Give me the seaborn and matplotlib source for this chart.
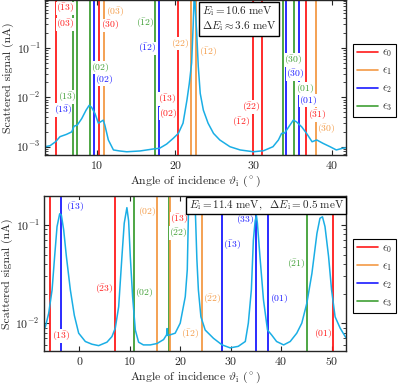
import matplotlib
matplotlib.use("Agg")
import matplotlib.pyplot as plt
from matplotlib.lines import Line2D
import pandas as pd
import seaborn as sns

# measured signal, top panel (Ei = 10.6 meV)
top_angle = [3.35, 4.0, 4.7, 5.27, 6.1, 6.77, 7.06, 7.48, 8.04, 8.6, 9.0, 9.3, 9.74,
             10.17, 10.47, 10.8, 11.0, 11.45, 12.1, 12.9, 13.8, 15.5, 17.2, 18.0, 18.9,
             19.75, 20.4, 21.0, 21.5, 21.8, 22.1, 22.3, 22.45, 22.6, 22.75, 22.95, 23.2,
             23.6, 24.2, 24.9, 25.7, 27.0, 28.3, 30.0, 31.3, 32.5, 33.2, 33.6, 34.0,
             34.5, 35.1, 35.5, 36.2, 36.8, 37.5, 38.1, 38.9, 39.8, 40.6, 41.4, 41.8]
top_signal = [1.0e-3, 1.05e-3, 1.26e-3, 1.6e-3, 1.78e-3, 2.0e-3, 2.6e-3, 2.75e-3, 3.7e-3,
              5.5e-3, 6.9e-3, 6.3e-3, 4.7e-3, 3.0e-3, 3.2e-3, 3.45e-3, 2.75e-3, 1.37e-3,
              8.6e-4, 8.2e-4, 7.9e-4, 8.2e-4, 9.0e-4, 9.3e-4, 1.13e-3, 1.48e-3, 1.86e-3,
              3.0e-3, 8.8e-3, 1.9e-2, 5.0e-2, 0.3, 1.5, 0.5, 0.2, 4.2e-2, 1.2e-2, 5.5e-3,
              3.0e-3, 1.86e-3, 1.37e-3, 1.0e-3, 8.6e-4, 7.9e-4, 8.3e-4, 1.0e-3, 1.37e-3,
              1.86e-3, 1.9e-3, 2.5e-3, 3.45e-3, 3.2e-3, 2.5e-3, 1.86e-3, 1.26e-3, 1.37e-3,
              1.17e-3, 1.0e-3, 8.6e-4, 9.3e-4, 9.5e-4]

# measured signal, bottom panel (Ei = 11.4 meV)
bot_angle = [-7.0, -6.7, -6.07, -5.4, -4.89, -4.42, -3.89, -3.56, -3.1, -2.57, -1.78, -0.99,
             -0.13, 1.19, 2.5, 3.83, 5.48, 6.47, 7.13, 7.8, 8.45, 8.9, 9.43, 9.77, 10.1,
             10.56, 11.1, 11.75, 12.7, 14.06, 15.4, 16.7, 17.3, 17.4, 17.5, 18.0, 19.0,
             20.0, 21.0, 21.4, 21.7, 22.3, 22.9, 23.3, 23.6, 24.1, 24.95, 26.6, 28.3, 29.9,
             31.5, 32.9, 33.5, 34.1, 34.5, 34.85, 35.1, 35.3, 35.8, 36.5, 37.3, 38.1, 39.1,
             40.5, 41.8, 43.1, 44.1, 45.1, 46.1, 47.1, 47.7, 48.2, 48.7, 49.4, 50.0, 50.7,
             51.7, 52.7, 53.0]
bot_signal = [8.5e-3, 9.3e-3, 0.0126, 0.0218, 0.048, 0.096, 0.13, 0.126, 0.089, 0.048,
              0.0218, 0.012, 7.9e-3, 6.5e-3, 6.1e-3, 5.9e-3, 6.4e-3, 7.3e-3, 8.9e-3, 0.0147,
              0.048, 0.104, 0.15, 0.11, 0.048, 0.0186, 8.5e-3, 6.4e-3, 6.0e-3, 6.0e-3, 6.2e-3,
              6.8e-3, 7.6e-3, 8.8e-3, 7.5e-3, 7.6e-3, 7.9e-3, 0.01, 0.0186, 0.035, 0.2, 0.7,
              0.2, 0.045, 0.0218, 0.0116, 8.5e-3, 7.0e-3, 6.0e-3, 5.6e-3, 5.8e-3, 6.5e-3,
              0.01, 0.0218, 0.07, 0.11, 0.125, 0.104, 0.048, 0.0173, 8.5e-3, 7.6e-3, 6.5e-3,
              6.0e-3, 6.5e-3, 7.9e-3, 0.01, 0.016, 0.032, 0.082, 0.117, 0.121, 0.096, 0.048,
              0.0218, 0.0116, 8.9e-3, 7.3e-3, 7.0e-3]

# resonance positions (angle, mode index)
top_lines_x = [4.72, 6.97, 7.48, 9.10, 9.65, 10.29, 10.93, 17.42, 17.93, 20.32, 22.02,
               22.62, 29.91, 31.06, 33.75, 34.13, 35.23, 35.83, 36.69, 38.0]
top_lines_eps = [0, 3, 3, 3, 2, 0, 1, 3, 2, 0, 1, 1, 0, 0, 3, 2, 3, 2, 0, 1]
bot_lines_x = [-5.88, -3.62, 7.13, 10.75, 15.39, 17.68, 17.88, 24.3, 28.38, 35.05, 37.49,
               45.09, 50.36]
bot_lines_eps = [0, 2, 0, 3, 1, 3, 1, 1, 2, 2, 2, 3, 0]

# reciprocal lattice labels (text, mode index, angle, height as axes fraction)
top_lab_text = [r"$(\bar{1}3)$", r"$(0\bar{3})$", r"$(1\bar{3})$", r"$(1\bar{3})$",
                r"$(0\bar{3})$", r"$(\bar{3}0)$", r"$(02)$", r"$(02)$", r"$(\bar{1}2)$",
                r"$(\bar{1}2)$", r"$(\bar{1}3)$", r"$(02)$", r"$(22)$", r"$(\bar{1}2)$",
                r"$(\bar{2}2)$", r"$(\bar{1}2)$", r"$(\bar{3}0)$", r"$(\bar{3}0)$",
                r"$(01)$", r"$(01)$", r"$(\bar{3}1)$", r"$(\bar{3}0)$"]
top_lab_eps = [0, 0, 3, 2, 1, 0, 3, 2, 3, 2, 0, 0, 1, 1, 0, 0, 3, 2, 3, 2, 0, 1]
top_lab_x = [5.91, 5.91, 6.16, 5.65, 12.3, 11.66, 10.38, 10.9, 16.14, 16.4, 18.95, 19.08,
             20.6, 24.2, 29.7, 28.5, 35.06, 35.3, 36.6, 36.98, 38.1, 39.3]
top_lab_y = [0.948, 0.845, 0.374, 0.29, 0.923, 0.839, 0.568, 0.49, 0.852, 0.69, 0.361,
             0.271, 0.723, 0.665, 0.31, 0.213, 0.613, 0.523, 0.432, 0.355, 0.258, 0.168]

bot_lab_text = [r"$(\bar{1}3)$", r"$(\bar{2}3)$", r"$(02)$", r"$(02)$", r"$(1\bar{3})$",
                r"$(\bar{1}3)$", r"$(\bar{2}2)$", r"$(\bar{1}2)$", r"$(\bar{2}2)$",
                r"$(\bar{1}3)$", r"$(3\bar{3})$", r"$(01)$", r"$(\bar{2}1)$", r"$(01)$"]
bot_lab_eps = [2, 0, 3, 1, 0, 0, 3, 1, 1, 2, 2, 2, 3, 0]
bot_lab_x = [-0.79, 4.95, 12.87, 13.4, -3.56, 19.8, 19.6, 22.0, 26.3, 30.3, 32.9, 39.6,
             43.0, 48.3]
bot_lab_y = [0.929, 0.40, 0.38, 0.903, 0.097, 0.852, 0.762, 0.11, 0.335, 0.684, 0.845,
             0.342, 0.561, 0.116]

eps_colors = ["#ff1a1a", "#f39a45", "#1a1aff", "#3f9f35"]
eps_names = [r"$\epsilon_0$", r"$\epsilon_1$", r"$\epsilon_2$", r"$\epsilon_3$"]
curve_color = "#1aaee5"

sns.set_style("ticks")
plt.rcParams["font.family"] = "serif"
plt.rcParams["font.serif"] = ["cmr10"]
plt.rcParams["mathtext.fontset"] = "cm"
plt.rcParams["axes.formatter.use_mathtext"] = True
plt.rcParams["axes.unicode_minus"] = False

fig = plt.figure(figsize=(3.99, 3.84), dpi=100)
ax1 = fig.add_axes([0.1128, 0.5964, 0.7536, 0.4025])
ax2 = fig.add_axes([0.1103, 0.0859, 0.7561, 0.4036])


def draw_panel(ax, ang, sig, lx, leps, ltxt, lab_eps, lab_x, lab_y, xlim, ylim, xticks):
    for x, e in zip(lx, leps):
        ax.axvline(x, color=eps_colors[e], lw=1.3, zorder=1)
    tr = ax.get_xaxis_transform()
    for t, e, x, y in zip(ltxt, lab_eps, lab_x, lab_y):
        ax.text(x, y, t, color=eps_colors[e], fontsize=7, ha="center", va="center",
                transform=tr, zorder=2,
                bbox=dict(boxstyle="square,pad=0.0", fc="white", ec="none"))
    df = pd.DataFrame({"angle": ang, "signal": sig})
    sns.lineplot(data=df, x="angle", y="signal", ax=ax, color=curve_color, lw=1.1,
                 zorder=3)
    ax.set_yscale("log")
    ax.set_xlim(*xlim)
    ax.set_ylim(*ylim)
    ax.set_xticks(xticks)
    ax.set_xlabel(r"Angle of incidence $\vartheta_\mathrm{i}$ ($^\circ$)", fontsize=8.5,
                  labelpad=2)
    ax.set_ylabel("Scattered signal (nA)", fontsize=8.5, labelpad=2)
    ax.tick_params(which="both", direction="in", top=True, right=True, labelsize=8.5,
                   pad=3)
    ax.tick_params(which="major", length=3.5, width=0.8)
    ax.tick_params(which="minor", length=2, width=0.6)
    ax.tick_params(axis="x", which="minor", bottom=False, top=False)
    for s in ax.spines.values():
        s.set_linewidth(1.0)
        s.set_zorder(4)
    handles = [Line2D([], [], color=c, lw=1.2) for c in eps_colors]
    leg = ax.legend(handles, eps_names, loc="upper left", bbox_to_anchor=(1.025, 0.72),
                    borderaxespad=0, fontsize=8, fancybox=False, framealpha=1,
                    edgecolor="black", handlelength=1.9, handletextpad=0.35,
                    labelspacing=0.55, borderpad=0.35)
    leg.get_frame().set_linewidth(0.8)


draw_panel(ax1, top_angle, top_signal, top_lines_x, top_lines_eps, top_lab_text,
           top_lab_eps, top_lab_x, top_lab_y, (3.35, 41.8), (6.8e-4, 0.92), [10, 20, 30, 40])
draw_panel(ax2, bot_angle, bot_signal, bot_lines_x, bot_lines_eps, bot_lab_text,
           bot_lab_eps, bot_lab_x, bot_lab_y, (-7.0, 52.8), (5.2e-3, 0.197),
           [0, 10, 20, 30, 40, 50])

box = dict(boxstyle="square,pad=0.25", fc="white", ec="black", lw=1.0)
ax1.text(0.522, 0.975, r"$E_\mathrm{i} = 10.6\ \mathrm{meV}$" + "\n" +
         r"$\Delta E_\mathrm{i} \approx 3.6\ \mathrm{meV}$", transform=ax1.transAxes,
         ha="left", va="top", fontsize=8, bbox=box, zorder=5, linespacing=1.1)
ax2.text(0.994, 0.982, r"$E_\mathrm{i} = 11.4\ \mathrm{meV},\ \ \Delta E_\mathrm{i} = 0.5\ \mathrm{meV}$",
         transform=ax2.transAxes, ha="right", va="top", fontsize=8,
         bbox=dict(boxstyle="square,pad=0.2", fc="white", ec="black", lw=1.0), zorder=5)

fig.savefig("out.png", dpi=100)
